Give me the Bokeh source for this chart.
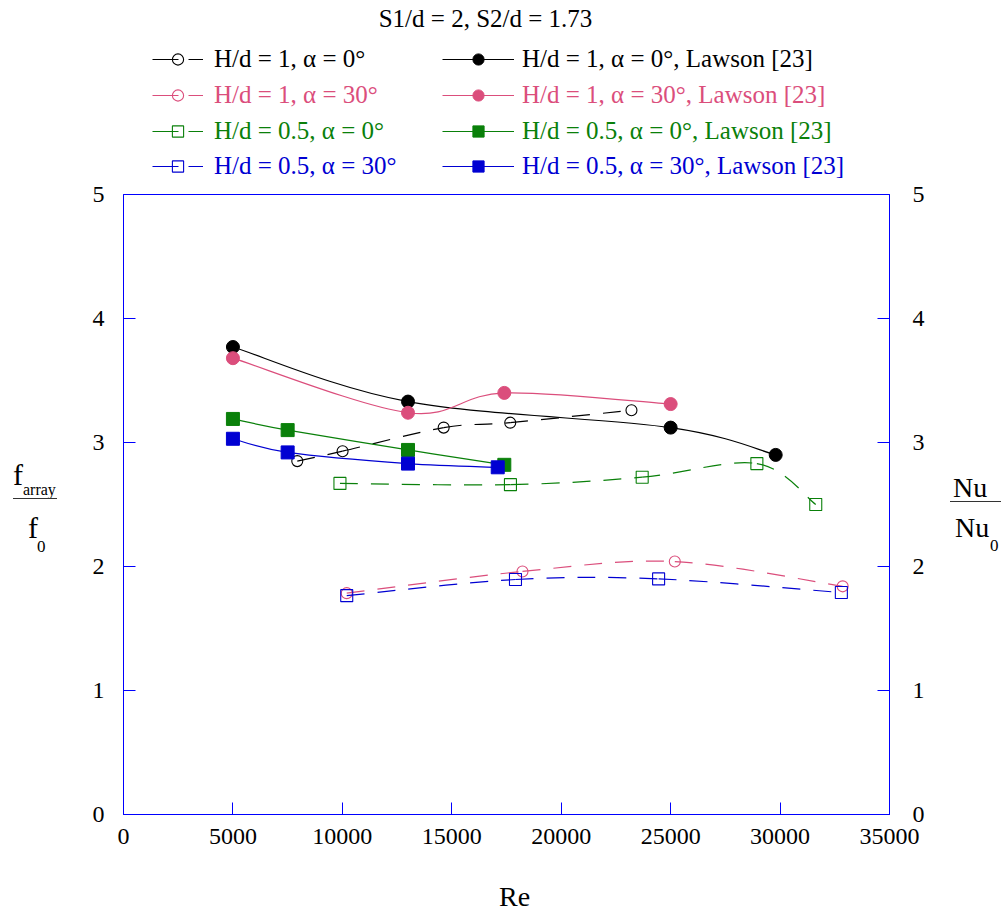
import numpy as np
from bokeh.plotting import figure
from bokeh.layouts import row, column
from bokeh.models import (LinearAxis, FixedTicker, Legend, LegendItem, Label, Div)
from bokeh.embed import file_html
from bokeh.resources import INLINE

# ---------------- data ----------------
re_h1_a0 = [7940, 10010, 14630, 17670, 23210]
nu_h1_a0 = [2.85, 2.93, 3.12, 3.16, 3.26]

re_h1_a30 = [10200, 18230, 25190, 32860]
nu_h1_a30 = [1.785, 1.96, 2.04, 1.84]

re_h05_a0 = [9890, 17680, 23700, 28940, 31630]
nu_h05_a0 = [2.67, 2.66, 2.72, 2.83, 2.50]

re_h05_a30 = [10200, 17910, 24450, 32800]
nu_h05_a30 = [1.765, 1.895, 1.90, 1.79]

re_law_h1_a0 = [5000, 13000, 25000, 29800]
f_law_h1_a0 = [3.77, 3.33, 3.12, 2.90]

re_law_h1_a30 = [5000, 13000, 17400, 25000]
f_law_h1_a30 = [3.68, 3.24, 3.40, 3.31]

re_law_h05_a0 = [5000, 7500, 13000, 17400]
f_law_h05_a0 = [3.19, 3.10, 2.94, 2.82]

re_law_h05_a30 = [5000, 7500, 13000, 17100]
f_law_h05_a30 = [3.03, 2.92, 2.83, 2.80]

x_ticks = [0, 5000, 10000, 15000, 20000, 25000, 30000, 35000]
x_tick_labels = ["0", "5000", "10000", "15000", "20000", "25000", "30000", "35000"]
y_ticks = [0, 1, 2, 3, 4, 5]
y_tick_labels = ["0", "1", "2", "3", "4", "5"]

labels_open = ["H/d = 1, \u03b1 = 0\u00b0", "H/d = 1, \u03b1 = 30\u00b0",
               "H/d = 0.5, \u03b1 = 0\u00b0", "H/d = 0.5, \u03b1 = 30\u00b0"]
labels_law = ["H/d = 1, \u03b1 = 0\u00b0, Lawson [23]", "H/d = 1, \u03b1 = 30\u00b0, Lawson [23]",
              "H/d = 0.5, \u03b1 = 0\u00b0, Lawson [23]", "H/d = 0.5, \u03b1 = 30\u00b0, Lawson [23]"]
title_text = "S1/d = 2, S2/d = 1.73"
x_title = "Re"

# ---------------- styling / page geometry ----------------
FONT = "Liberation Serif"
BLACK = "#000000"
PINK = "#db4e7c"
GREEN = "#0a800a"
BLUE = "#0000d2"
AXIS_BLUE = "#0000ff"

PAGE_W, PAGE_H = 1003, 911
TOP_H = 180                     # legend / title strip
BOT_H = 45                      # strip holding the "Re" title
MID_H = PAGE_H - TOP_H - BOT_H
LEFT_W, RIGHT_W = 60, 63
FIG_W = PAGE_W - LEFT_W - RIGHT_W
L, R, T, B = 123, 889, 194, 814          # frame edges in page pixels
XMAX, YMAX = 35000, 5

series_open = [
    (re_h1_a0, nu_h1_a0, BLACK, "circle", 11),
    (re_h1_a30, nu_h1_a30, PINK, "circle", 11),
    (re_h05_a0, nu_h05_a0, GREEN, "square", 12),
    (re_h05_a30, nu_h05_a30, BLUE, "square", 12),
]
series_law = [
    (re_law_h1_a0, f_law_h1_a0, BLACK, "circle", 13),
    (re_law_h1_a30, f_law_h1_a30, PINK, "circle", 13),
    (re_law_h05_a0, f_law_h05_a0, GREEN, "square", 13),
    (re_law_h05_a30, f_law_h05_a30, BLUE, "square", 13),
]
DASH = "18 13"

# ================= main chart =================
p = figure(width=FIG_W, height=MID_H, x_range=(0, XMAX), y_range=(0, YMAX),
           output_backend="svg", toolbar_location=None, title_location=None,
           min_border_left=L - LEFT_W, min_border_right=LEFT_W + FIG_W - R,
           min_border_top=T - TOP_H, min_border_bottom=TOP_H + MID_H - B)
p.margin = 0
p.xgrid.visible = False
p.ygrid.visible = False
p.outline_line_color = AXIS_BLUE
p.outline_line_width = 1
p.background_fill_color = "white"
p.border_fill_color = "white"


def style_axis(ax, ticks, labels, standoff):
    ax.ticker = FixedTicker(ticks=ticks)
    ax.major_label_overrides = {t: l for t, l in zip(ticks, labels)}
    ax.axis_line_color = AXIS_BLUE
    ax.major_tick_line_color = AXIS_BLUE
    ax.major_tick_in = 12
    ax.major_tick_out = 0
    ax.minor_tick_line_color = None
    ax.major_label_text_font = FONT
    ax.major_label_text_font_size = "24px"
    ax.major_label_text_color = "black"
    ax.major_label_standoff = standoff


style_axis(p.xaxis[0], x_ticks, x_tick_labels, 14)
style_axis(p.yaxis[0], y_ticks, y_tick_labels, 19)
right_axis = LinearAxis()
style_axis(right_axis, y_ticks, y_tick_labels, 23)
p.add_layout(right_axis, "right")


def smooth(fig, xs, ys, color, dash, width=1.2):
    P = np.column_stack([np.asarray(xs, float), np.asarray(ys, float)])
    n = len(P)
    x0, y0, x1, y1, cx0, cy0, cx1, cy1 = ([] for _ in range(8))
    for i in range(n - 1):
        a = P[i - 1] if i > 0 else P[i]
        b = P[i]
        c = P[i + 1]
        d = P[i + 2] if i + 2 < n else P[i + 1]
        k0 = b + (c - a) / 6.0
        k1 = c - (d - b) / 6.0
        x0.append(b[0]); y0.append(b[1]); x1.append(c[0]); y1.append(c[1])
        cx0.append(k0[0]); cy0.append(k0[1]); cx1.append(k1[0]); cy1.append(k1[1])
    return fig.bezier(x0=x0, y0=y0, x1=x1, y1=y1, cx0=cx0, cy0=cy0, cx1=cx1, cy1=cy1,
                      line_color=color, line_width=width, line_dash=dash)


for xs, ys, col, mk, sz in series_open:
    smooth(p, xs, ys, col, DASH)
    p.scatter(xs, ys, marker=mk, size=sz, line_color=col, fill_alpha=0, line_width=1.1)

for xs, ys, col, mk, sz in series_law:
    smooth(p, xs, ys, col, "solid")
    p.scatter(xs, ys, marker=mk, size=sz, line_color=col, fill_color=col, line_width=1)

# ================= legend / title strip =================
lg = figure(width=PAGE_W, height=TOP_H, x_range=(0, PAGE_W), y_range=(0, TOP_H),
            output_backend="svg", toolbar_location=None, title_location=None,
            x_axis_location=None, y_axis_location=None,
            min_border_left=0, min_border_right=0, min_border_top=0, min_border_bottom=0)
lg.margin = 0
lg.xgrid.visible = False
lg.ygrid.visible = False
lg.outline_line_color = None
lg.background_fill_color = "white"
lg.border_fill_color = "white"

lg.add_layout(Label(x=485, y=TOP_H - 18, text=title_text, text_font=FONT,
                    text_font_size="25px", text_align="center", text_baseline="middle",
                    text_color="black"))

# legend keys: the same series, drawn in the strip's own (pixel) coordinates where
# every Re value lies beyond its right edge, so only the legend samples show.
colors = [BLACK, PINK, GREEN, BLUE]
row_centers = [59, 95, 131, 166]
ITEM_H = 28


def add_key(label, rends, col, x_left, yc, gw, standoff):
    leg = Legend(items=[LegendItem(label=label, renderers=rends)],
                 location=(x_left, TOP_H - (yc + ITEM_H / 2)),
                 orientation="vertical",
                 glyph_width=gw, glyph_height=ITEM_H, label_height=ITEM_H,
                 label_standoff=standoff, padding=0, margin=0, spacing=0,
                 border_line_alpha=0, background_fill_alpha=0,
                 inactive_fill_alpha=0,
                 label_text_font=FONT, label_text_font_size="25px",
                 label_text_color=col)
    lg.add_layout(leg, "center")


for i in range(4):
    xs, ys, col, mk, sz = series_open[i]
    k1 = lg.line(xs, ys, line_color=col, line_width=1.2, line_dash="26 10")
    k2 = lg.scatter(xs, ys, marker=mk, size=sz, line_color=col, fill_alpha=0, line_width=1.1)
    add_key(labels_open[i], [k1, k2], col, 152, row_centers[i], 51, 11)

    xs, ys, col, mk, sz = series_law[i]
    k1 = lg.line(xs, ys, line_color=col, line_width=1.2)
    k2 = lg.scatter(xs, ys, marker=mk, size=sz, line_color=col, fill_color=col, line_width=1)
    add_key(labels_law[i], [k1, k2], col, 442, row_centers[i], 72, 8)

# ================= HTML text beside / below the chart =================
def span(txt, left, baseline, size):
    top = baseline - 0.8375 * size
    return (f'<span style="position:absolute;left:{left}px;top:{top:.1f}px;'
            f'font-size:{size}px;line-height:1;white-space:nowrap;">{txt}</span>')


def rule(left, width, y):
    return (f'<div style="position:absolute;left:{left}px;top:{y}px;width:{width}px;'
            f'height:0;border-top:1px solid #333;"></div>')


def box(inner, w, h):
    return (f'<div style="position:relative;width:{w}px;height:{h}px;margin:0;padding:0;'
            f'overflow:hidden;font-family:\'{FONT}\';color:black;">{inner}</div>')


oy = TOP_H
left_html = box(span("f", 13, 485 - oy, 30) + span("array", 23, 495 - oy, 16)
                + rule(13, 44, 498 - oy)
                + span("f", 28, 538 - oy, 30) + span("0", 37, 552 - oy, 17), LEFT_W, MID_H)
ox = LEFT_W + FIG_W
right_html = box(span("Nu", 953 - ox, 497 - oy, 28) + rule(950 - ox, 51, 501 - oy)
                 + span("Nu", 955 - ox, 537 - oy, 28) + span("0", 990 - ox, 551 - oy, 17),
                 RIGHT_W, MID_H)
by = TOP_H + MID_H
bottom_html = box(span(x_title, 499, 906 - by, 28), PAGE_W, BOT_H)

left_div = Div(text=left_html, width=LEFT_W, height=MID_H, margin=0)
right_div = Div(text=right_html, width=RIGHT_W, height=MID_H, margin=0)
bottom_div = Div(text=bottom_html, width=PAGE_W, height=BOT_H, margin=0)

layout = column(lg, row(left_div, p, right_div, spacing=0, margin=0), bottom_div,
                spacing=0, margin=0)

open("out.html", "w").write(file_html(layout, INLINE))
